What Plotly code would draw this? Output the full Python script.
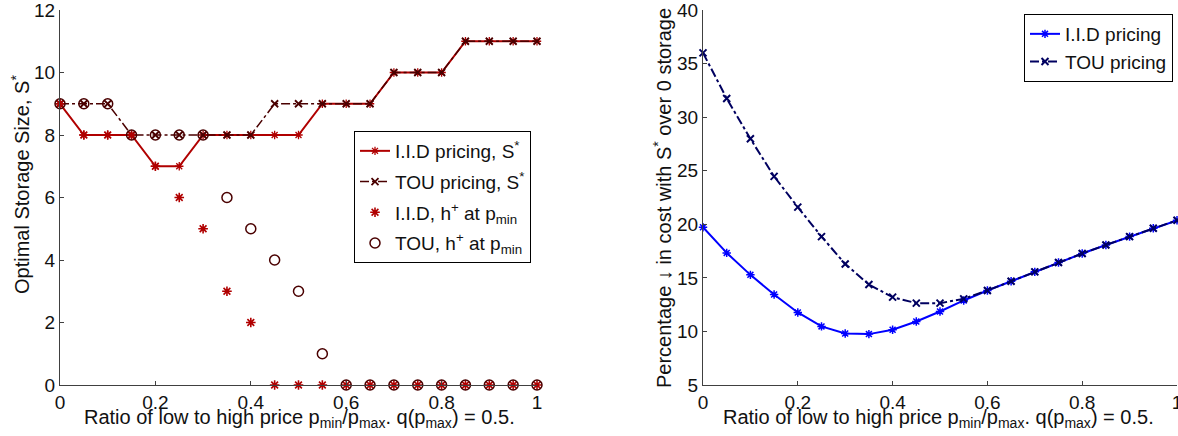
import plotly.graph_objects as go

ratio = [0, 0.05, 0.1, 0.15, 0.2, 0.25, 0.3, 0.35, 0.4, 0.45, 0.5,
         0.55, 0.6, 0.65, 0.7, 0.75, 0.8, 0.85, 0.9, 0.95, 1.0]

# Left panel: optimal storage size
iid_S = [9, 8, 8, 8, 7, 7, 8, 8, 8, 8, 8, 9, 9, 9, 10, 10, 10, 11, 11, 11, 11]
tou_S = [9, 9, 9, 8, 8, 8, 8, 8, 8, 9, 9, 9, 9, 9, 10, 10, 10, 11, 11, 11, 11]
iid_h = [9, 8, 8, 8, 7, 6, 5, 3, 2, 0, 0, 0, 0, 0, 0, 0, 0, 0, 0, 0, 0]
tou_h = [9, 9, 9, 8, 8, 8, 8, 6, 5, 4, 3, 1, 0, 0, 0, 0, 0, 0, 0, 0, 0]

# Right panel: percentage decrease in cost
iid_pct = [19.72, 17.33, 15.28, 13.45, 11.77, 10.47, 9.81, 9.75, 10.16, 10.93, 11.86,
           12.89, 13.82, 14.69, 15.56, 16.43, 17.27, 18.07, 18.85, 19.63, 20.37]
tou_pct = [36.0, 31.74, 27.98, 24.47, 21.6, 18.85, 16.3, 14.38, 13.2, 12.64, 12.64,
           13.04, 13.82, 14.69, 15.56, 16.43, 17.27, 18.07, 18.85, 19.63, 20.37]

left_yticks = [0, 2, 4, 6, 8, 10, 12]
right_yticks = [5, 10, 15, 20, 25, 30, 35, 40]
xticks = [0, 0.2, 0.4, 0.6, 0.8, 1]
xtick_text = ["0", "0.2", "0.4", "0.6", "0.8", "1"]

W, H = 1178, 436
FONT = "Liberation Sans, Arial, Helvetica, sans-serif"
RED = "#b00000"
MAROON = "#4a0000"
BLUE = "#0000ff"
NAVY = "#000060"
AX = "#404040"
TXT = "#111"

fig = go.Figure()

fig.add_trace(go.Scatter(x=ratio, y=iid_S, mode="lines+markers", name="I.I.D pricing, S<sup>*</sup>",
                         line=dict(color=RED, width=2),
                         marker=dict(symbol="asterisk-open", size=7, color=RED, line=dict(color=RED, width=1.3)),
                         cliponaxis=False, xaxis="x", yaxis="y", legend="legend", legendgroup="a"))
fig.add_trace(go.Scatter(x=ratio, y=tou_S, mode="lines+markers", name="TOU pricing, S<sup>*</sup>",
                         line=dict(color=MAROON, width=1.5, dash="dashdot"),
                         marker=dict(symbol="x-thin-open", size=7, color=MAROON, line=dict(color=MAROON, width=1.8)),
                         cliponaxis=False, xaxis="x", yaxis="y", legend="legend", legendgroup="b"))
fig.add_trace(go.Scatter(x=ratio, y=iid_h, mode="markers", name="I.I.D, h<sup>+</sup> at p<sub>min</sub>",
                         marker=dict(symbol="asterisk-open", size=8, color=RED, line=dict(color=RED, width=1.6)),
                         cliponaxis=False, xaxis="x", yaxis="y", legend="legend", legendgroup="c"))
fig.add_trace(go.Scatter(x=ratio, y=tou_h, mode="markers", name="TOU, h<sup>+</sup> at p<sub>min</sub>",
                         marker=dict(symbol="circle-open", size=10, color=MAROON, line=dict(color=MAROON, width=1.5)),
                         cliponaxis=False, xaxis="x", yaxis="y", legend="legend", legendgroup="d"))

fig.add_trace(go.Scatter(x=ratio, y=iid_pct, mode="lines+markers", name="I.I.D pricing",
                         line=dict(color=BLUE, width=2),
                         marker=dict(symbol="asterisk-open", size=7, color=BLUE, line=dict(color=BLUE, width=1.5)),
                         cliponaxis=False, xaxis="x2", yaxis="y2", legend="legend2"))
fig.add_trace(go.Scatter(x=ratio, y=tou_pct, mode="lines+markers", name="TOU pricing",
                         line=dict(color=NAVY, width=2, dash="dashdot"),
                         marker=dict(symbol="x-thin-open", size=7, color=NAVY, line=dict(color=NAVY, width=2)),
                         cliponaxis=False, xaxis="x2", yaxis="y2", legend="legend2"))

top, bottom = 10, 385
ph = bottom - top
def px_x(p):
    return p / W
def px_y(p):
    return (bottom - p) / ph

axis_common = dict(showgrid=False, zeroline=False, showline=True, linecolor=AX, linewidth=1,
                   ticks="inside", ticklen=4, tickcolor=AX, mirror=False, ticklabeloverflow="allow",
                   tickfont=dict(family=FONT, size=19, color=TXT))

fig.update_layout(
    width=W, height=H,
    margin=dict(l=0, r=0, t=top, b=H - bottom, autoexpand=False),
    paper_bgcolor="white", plot_bgcolor="white",
    font=dict(family=FONT, color=TXT),
    showlegend=True,
    xaxis=dict(domain=[60 / W, 537 / W], range=[0, 1], tickvals=xticks, ticktext=xtick_text,
               anchor="y", **axis_common),
    yaxis=dict(domain=[0, 1], range=[0, 12], tickvals=left_yticks, anchor="x", **axis_common),
    xaxis2=dict(domain=[703 / W, 1177 / W], range=[0, 1], tickvals=xticks, ticktext=xtick_text,
                anchor="y2", **axis_common),
    yaxis2=dict(domain=[0, 1], range=[5, 40], tickvals=right_yticks, anchor="x2", **axis_common),
    legend=dict(x=px_x(354), y=px_y(131), xanchor="left", yanchor="top",
                bgcolor="white", bordercolor="black", borderwidth=1,
                font=dict(family=FONT, size=19, color=TXT), tracegroupgap=3),
    legend2=dict(x=px_x(1173), y=px_y(14), xanchor="right", yanchor="top",
                 bgcolor="white", bordercolor="black", borderwidth=1,
                 font=dict(family=FONT, size=19, color=TXT)),
)

xtitle = "Ratio of low to high price p<sub>min</sub>/p<sub>max</sub>. q(p<sub>max</sub>) = 0.5."
fig.add_annotation(x=px_x(299), y=px_y(418), xref="paper", yref="paper", text=xtitle,
                   showarrow=False, xanchor="center", yanchor="middle",
                   font=dict(family=FONT, size=20, color=TXT))
fig.add_annotation(x=px_x(938), y=px_y(418), xref="paper", yref="paper", text=xtitle,
                   showarrow=False, xanchor="center", yanchor="middle",
                   font=dict(family=FONT, size=20, color=TXT))
fig.add_annotation(x=px_x(20), y=px_y(185), xref="paper", yref="paper",
                   text="Optimal Storage Size, S<sup>*</sup>", textangle=-90,
                   showarrow=False, xanchor="center", yanchor="middle",
                   font=dict(family=FONT, size=20, color=TXT))
fig.add_annotation(x=px_x(662), y=px_y(198), xref="paper", yref="paper",
                   text="Percentage \u2193 in cost with S<sup>*</sup> over 0 storage", textangle=-90,
                   showarrow=False, xanchor="center", yanchor="middle",
                   font=dict(family=FONT, size=20, color=TXT))

fig.write_html("out.html")
